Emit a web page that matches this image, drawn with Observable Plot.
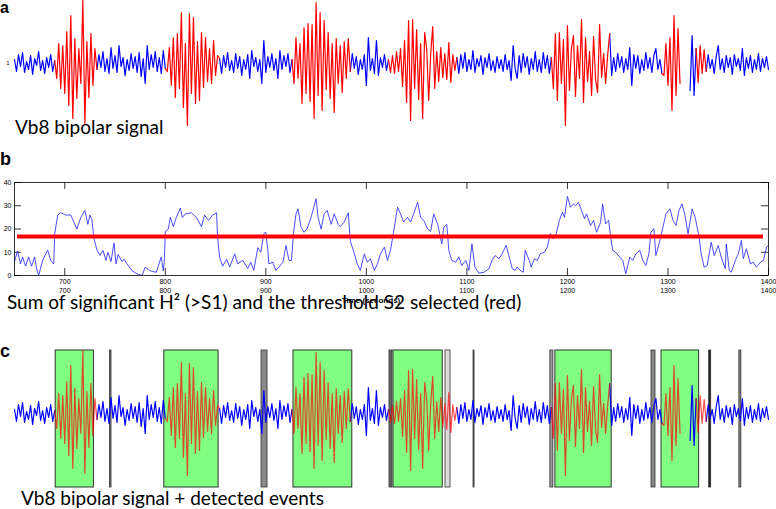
<!DOCTYPE html>
<html><head><meta charset="utf-8">
<script src="https://cdn.jsdelivr.net/npm/d3@7"></script>
<script src="https://cdn.jsdelivr.net/npm/@observablehq/plot@0.6"></script>
<style>
body{margin:0;background:#fff;}
#wrap{position:relative;width:776px;height:509px;overflow:hidden;background:#fff;}
#wrap > svg, #wrap > div{position:absolute;left:0;}
</style></head><body><div id="wrap"></div>
<script>
// ---------- DATA ----------
// Vb8 bipolar signal, sampled every 2 s from 650 s
const sigStart = 650, sigStep = 2;
const sigValues = [
 0.4,-0.8,0.9,-0.3,1.1,-0.9,0.2,-0.6,0.8,-1.1, 0.5,-0.2,1.2,-0.7,0.3,-1.0,0.6,-0.4,0.9,-0.8, 0.3,
 -1.5,2.0,-2.5,1.8,-3.0,3.2,-4.2,4.8,-5.5,2.5, -3.5,1.5,-2.0,6.3,-6.0,2.2,-3.4,3.0,-2.2,1.5,
 -0.6,0.9,-0.4,1.2,-0.8,0.5,-1.0,1.6,-0.5,0.8, -0.9,1.8,-0.3,0.6,-1.2,0.4,-0.7,1.0,-0.5,0.7,
 -0.9,1.1,-1.3,0.5,-2.0,1.8,-0.6,0.9,-0.4,1.2, -0.8,0.6,-1.0,1.3,-0.5,
 -0.8,1.6,-2.2,2.6,-3.4,3.0,-2.5,5.1,-4.4,2.0, -6.2,5.0,-3.0,4.6,-4.0,2.2,-3.7,3.1,-2.4,2.6, -1.8,1.5,-2.0,2.3,-1.2,0.8,
 0.5,-1.0,0.8,-0.4,1.1,-0.7,0.3,-0.9,1.0,-0.5, 0.7,-1.2,0.4,-0.6,0.9,-1.5,1.3,-0.3,0.6,-0.8,
 0.4,-2.0,2.3,-0.9,0.7,-0.4,1.0,-0.7,0.5,-1.5, 1.3,-0.6,0.8,-0.3,1.0,-0.9,0.4,
 -2.0,2.6,-1.5,2.0,-4.0,3.6,-3.0,4.0,-3.8,3.9, -5.5,6.1,-3.2,5.1,-4.7,4.3,-2.6,3.1,-3.5,2.0, -4.9,2.5,-2.0,1.8,-2.9,2.2,-1.5,2.5,
 -0.8,1.0,-0.5,0.7,-1.1,0.4,-0.6,0.9,-2.2,2.6, -0.7,0.5,-1.0,2.3,-1.2,0.6,-0.4,0.9,-0.7,0.4,
 -0.9,0.8,-1.0,1.2,-0.8,1.5,-2.3,2.3,-3.9,4.3, -5.7,4.4,-2.5,3.4,-3.6,2.0,-5.5,3.1,1.5,-3.7, 1.0,3.7,-2.5,1.2,-1.8,1.6,-1.4,1.0,-1.6,2.1, -1.9,0.9,-0.7,
 0.6,-1.0,0.9,-0.5,1.1,-0.8,0.4,-0.6,1.3,-0.9, 0.5,-0.3,0.8,-1.1,0.6,-0.4,1.0,-0.7,0.3,-0.9,
 0.7,-0.5,0.4,-0.8,0.9,-0.6,0.3,-1.7,1.8,-0.5, -1.5,0.8,-0.9,1.0,-0.4,0.7,-1.1,0.5,-0.6,1.2, -0.8,0.4,-0.9,1.1,-0.5,0.8,-1.0,0.6,
 -2.5,3.0,-3.7,3.1,-2.0,2.4,-6.2,3.8,-2.7,1.5, 2.8,-3.3,1.8,-1.5,4.4,-3.9,2.6,-1.8,1.2,-3.2, 2.7,-1.6,-2.9,3.9,-1.4,1.0,-2.0,0.8,
 3.0,-1.2,0.6,-0.8,1.0,-0.4,0.7,-0.9,0.5,-0.6, 1.6,-2.2,0.9,-0.5,0.8,-1.0,0.4,-0.7,1.1,-0.5, 0.6,-0.9,0.8,1.5,-0.6,0.4,-1.0,
 -1.2,2.0,-2.2,2.6,-4.7,4.8,-3.2,3.5,-2.0,
 NaN,NaN,NaN,NaN,-2.7,2.8,-3.2,1.5,
 -1.9,1.8,-1.0,1.4,
 -0.8,0.9,-0.5,0.4,-1.0,0.7,1.8,-0.6,0.5,-0.9, 0.8,-0.4,0.6,-1.1,0.9,-0.3,0.5,-0.7,1.5,-1.2,
 0.6,-0.5,0.8,-0.9,0.4,-0.6,1.0,-0.8,0.5,-0.4, 0.7,-0.6
];
// red (event) spans of the signal, seconds
const redStart = [691, 801, 927, 1023, 1185, 1295, 1329];
const redEnd   = [731, 853, 983, 1089, 1241, 1313, 1337];

// Sum of significant H^2 (>S1)
const sumT = [650,653,656,658,661,664,667,670,672,674,678,683,686,689,690,693,696,701,706,712,716,720,723,725,727,729,732,735,738,741,743,746,749,751,753,757,759,762,767,772,777,780,785,791,796,798,799,800,803,805,808,811,815,817,820,826,831,836,839,843,847,851,852,854,857,861,864,869,872,877,882,885,888,892,895,898,900,902,903,907,910,913,917,920,923,925.5,927.5,930,932,935,938,941,945,950,952,955,958,961,965,968,972,974,978,982,984,987,991,994,998,1001,1004,1008,1011,1014,1018,1021,1024,1027,1031,1034,1037,1041,1044,1047,1051,1054,1057,1061,1064,1067,1071,1075,1077,1080,1082,1085,1089,1092,1095,1099,1102,1105,1108,1112,1117,1122,1125,1128,1132,1135,1139,1143,1145,1148,1150,1153,1156,1158,1162,1164,1167,1170,1173,1177,1180,1183,1186,1188,1192,1195,1197,1200,1203,1206,1208,1211,1214,1217,1219,1223,1226,1229,1233,1235,1238,1241,1243,1245,1248,1252,1255,1258,1262,1265,1268,1272,1275,1278,1281,1283,1286,1288,1292,1295,1298,1302,1305,1308,1311,1314,1317,1320,1324,1327,1331,1333,1336,1339,1343,1346,1350,1353,1357,1358,1361,1363,1367,1370,1373,1375,1378,1382,1385,1388,1392,1395,1398,1400];
const sumV = [6,10.5,5,8,4,8,4,8,3,0,6.5,11,6.5,5,18,26,27,26,26,20,25,28,22,26,24,16,11,8.6,10.8,6.5,10,6,14,5,9,6,7,5,2,0.7,0,3.6,2,1.4,8,2,6,19,20,25,21,25,29,25,26.5,27,25,21,26,23.7,26,27,16.5,8,4,7,3.6,9.3,5,6.5,3,5.7,2.2,12,10,18,18.6,10.8,5,5.7,2.2,3.6,5.7,12.9,6.5,6.5,18,26.5,28.7,20.8,18.6,20.1,25,33,25,20,26.5,28,22,26.5,22,21,23,27,15,10.8,5,2.2,9.3,5.7,7.2,2.2,5,9.3,12.2,6.5,10.8,18.6,29.4,26.5,23,25,23,26.5,31.5,25,23.7,20,19,26.5,22,13.6,20.8,22,10.8,6.5,5.7,8,4.3,6.5,2.2,13.6,3.6,1,1.4,2.9,6.5,8.6,7.2,9.3,13,6.5,3,2.2,3.6,2.2,1.4,10.8,6.5,3.6,7.2,6.5,9.3,10,12.2,18,15.8,16.5,23.7,27.2,25,34,29.4,30.8,30,31.5,28,24.4,26.5,21.5,23.7,18.6,22.9,30.8,22.2,23.7,16.5,10.8,10,7.9,6.5,0.7,7.9,6.5,9.3,10.8,6.5,4.3,9.3,18.6,20.1,8.6,15.1,20.8,26.5,28.7,23.7,21.5,28,30.8,25.8,17.9,28.7,25.1,16.5,9.3,3.6,4.3,14.3,8.6,12.9,7.9,2.9,13.6,2.2,1.4,6.5,9.3,15.1,7.2,11.5,5,5.7,3.6,5.7,6.5,12.2,12.9];
const thresholdS2 = 16.8;
const thresholdSpan = [653, 1395];

// detected events (green) and rejected candidates (grey bars), seconds
const eventStart = [691, 799, 927.5, 1027, 1188, 1293.6];
const eventEnd   = [729, 853, 986, 1076, 1244, 1331];
const barStart = [745, 895.7, 1023, 1078.7, 1106.6, 1183, 1283.6, 1341, 1371];
const barEnd   = [746.5, 901.7, 1026, 1083.7, 1107.6, 1186, 1287.6, 1343, 1373];
const barShade = ["#777", "#8a8a8a", "#666", "#dcdcdc", "#555", "#999", "#888", "#222", "#888"];

const xTicks = [700, 800, 900, 1000, 1100, 1200, 1300, 1400];
const yTicks = [0, 10, 20, 30, 40];
const panelATick = "1";
const texts = {
  a: "a", b: "b", c: "c",
  capA: "Vb8 bipolar signal",
  capB: "Sum of significant H² (>S1) and the threshold S2 selected (red)",
  capC: "Vb8 bipolar signal + detected events",
  xLabel: "Time (seconds)"
};

// ---------- BUILD ----------
const W = 776, ML = 14, MR = 8;
const xDomain = [650, 1400];
const sig = sigValues.map((v, i) => ({t: sigStart + i * sigStep, v}));
const inRed = t => redStart.some((a, k) => t > a && t < redEnd[k]);
const blueSig = sig.map(d => ({t: d.t, v: inRed(d.t) ? NaN : d.v}));
const redPts = [];
redStart.forEach((a, k) => sig.forEach(d => {
  if (d.t >= a - sigStep && d.t <= redEnd[k] + sigStep && Number.isFinite(d.v)) redPts.push({t: d.t, v: d.v, k});
}));
const sumData = sumT.map((t, i) => ({t, v: sumV[i]}));
const events = eventStart.map((s, i) => ({s, e: eventEnd[i]}));
const bars = barStart.map((s, i) => ({s, e: barEnd[i], shade: barShade[i]}));
const baseStyle = {background: "transparent", overflow: "visible", fontFamily: "'Liberation Sans', Arial, sans-serif", color: "#000"};

const wrap = document.getElementById("wrap");

// panel a
const pa = Plot.plot({
  width: W, height: 128, marginLeft: ML, marginRight: MR, marginTop: 0, marginBottom: 2,
  style: baseStyle,
  x: {domain: xDomain, axis: null},
  y: {domain: [-6.3, 6.3], axis: null},
  marks: [
    Plot.axisY([0], {anchor: "left", tickSize: 0, tickPadding: 5, tickFormat: () => panelATick, fontSize: 6, label: null}),
    Plot.line(blueSig, {x: "t", y: "v", stroke: "#0000ff", strokeWidth: 1.2}),
    Plot.line(redPts, {x: "t", y: "v", z: "k", stroke: "#ff0000", strokeWidth: 1.2})
  ]
});
pa.style.top = "0px";
wrap.appendChild(pa);

// panel b
const fh = 93, fw = W - ML - MR;
const pb = Plot.plot({
  width: W, height: 130, marginLeft: ML, marginRight: MR, marginTop: 10, marginBottom: 27,
  style: baseStyle,
  x: {domain: xDomain, axis: null},
  y: {domain: [0, 40], axis: null},
  marks: [
    Plot.tickX(xTicks, {x: d => d, insetTop: fh - 7, stroke: "#000", strokeWidth: 0.8}),
    Plot.tickX(xTicks, {x: d => d, insetBottom: fh - 7, stroke: "#000", strokeWidth: 0.8}),
    Plot.tickY(yTicks, {y: d => d, insetRight: fw - 7, stroke: "#000", strokeWidth: 0.8}),
    Plot.tickY(yTicks, {y: d => d, insetLeft: fw - 7, stroke: "#000", strokeWidth: 0.8}),
    Plot.axisX(xTicks, {anchor: "bottom", tickSize: 0, tickPadding: 4, fontSize: 7, label: null, tickFormat: d => String(d)}),
    Plot.axisX(xTicks, {anchor: "bottom", tickSize: 0, tickPadding: 13, fontSize: 7, label: null, tickFormat: d => String(d)}),
    Plot.axisY(yTicks, {anchor: "left", tickSize: 0, tickPadding: 3, fontSize: 7, label: null, tickFormat: d => String(d)}),
    Plot.line(sumData, {x: "t", y: "v", stroke: "#2020ff", strokeWidth: 0.8}),
    Plot.ruleY([thresholdS2], {x1: thresholdSpan[0], x2: thresholdSpan[1], stroke: "#ff0000", strokeWidth: 4}),
    Plot.frame({stroke: "#000", strokeWidth: 0.8})
  ]
});
pb.style.top = "172px";
wrap.appendChild(pb);

// panel c
const pc = Plot.plot({
  width: W, height: 139, marginLeft: ML, marginRight: MR, marginTop: 1, marginBottom: 1,
  style: baseStyle,
  x: {domain: xDomain, axis: null},
  y: {domain: [-7.4, 6.3], axis: null},
  marks: [
    Plot.rect(events, {x1: "s", x2: "e", fill: "#80ff80", stroke: "#333", strokeWidth: 1}),
    Plot.rect(bars, {x1: "s", x2: "e", fill: "shade", stroke: "#333", strokeWidth: 0.8}),
    Plot.line(blueSig, {x: "t", y: "v", stroke: "#0000ff", strokeWidth: 1.2}),
    Plot.line(redPts, {x: "t", y: "v", z: "k", stroke: "#ff0000", strokeOpacity: 0.7, strokeWidth: 1.2})
  ]
});
pc.style.top = "349px";
wrap.appendChild(pc);

// text overlay
const ns = "http://www.w3.org/2000/svg";
const ov = document.createElementNS(ns, "svg");
ov.setAttribute("width", W); ov.setAttribute("height", 509);
ov.style.top = "0px";
function addText(str, x, y, size, family, weight) {
  const t = document.createElementNS(ns, "text");
  t.setAttribute("x", x); t.setAttribute("y", y);
  t.setAttribute("font-size", size); t.setAttribute("font-family", family);
  if (weight) t.setAttribute("font-weight", weight);
  t.setAttribute("fill", "#000");
  t.textContent = str;
  ov.appendChild(t);
  return t;
}
const letterF = "'Liberation Sans', Arial, sans-serif";
const capF = "Lato, 'Open Sans', sans-serif";
addText(texts.a, 0, 13, 16, letterF, "bold");
addText(texts.b, 0, 165, 18, letterF, "bold");
addText(texts.c, 0, 357, 18, letterF, "bold");
addText(texts.capA, 15, 134, 19, capF);
addText(texts.capB, 7, 309, 19, capF);
addText(texts.capC, 21, 505, 19, capF);
const xl = addText(texts.xLabel, 371, 303, 8, letterF, "bold");
xl.setAttribute("text-anchor", "middle");
wrap.appendChild(ov);
</script>
</body></html>
